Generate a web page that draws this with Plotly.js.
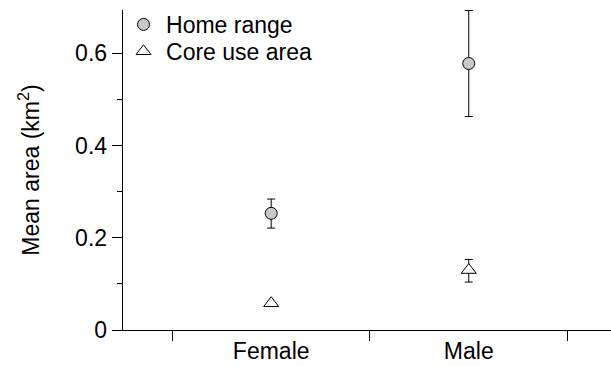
<!DOCTYPE html>
<html>
<head>
<meta charset="utf-8">
<script src="https://cdn.plot.ly/plotly-3.0.1.min.js"></script>
<style>html,body{margin:0;padding:0;background:#fff;}#chart{width:611px;height:367px;}</style>
</head>
<body>
<div id="chart"></div>
<script>
const categories = ["Female", "Male"];
const homeRange = [0.253, 0.578];
const homeRangeErrPlus = [0.031, 0.115];
const homeRangeErrMinus = [0.032, 0.115];
const coreUse = [0.058, 0.130];
const coreUseErrPlus = [0.0, 0.023];
const coreUseErrMinus = [0.0, 0.026];
const yTickVals = [0, 0.2, 0.4, 0.6];
const yTickText = ["0", "0.2", "0.4", "0.6"];

const font = "Liberation Sans, Arial, Helvetica, sans-serif";
const fs = 23;

const traces = [
  {
    type: "scatter", mode: "markers", name: "Home range", legend: "legend",
    x: categories, y: homeRange,
    error_y: {type: "data", symmetric: false, array: homeRangeErrPlus, arrayminus: homeRangeErrMinus,
              color: "#000", thickness: 1, width: 4},
    marker: {symbol: "circle", size: 12, color: "#c8c8c8", line: {color: "#000", width: 1}}
  },
  {
    type: "scatter", mode: "markers", name: "Core use area", legend: "legend2",
    x: categories, y: coreUse,
    error_y: {type: "data", symmetric: false, array: coreUseErrPlus, arrayminus: coreUseErrMinus,
              color: "#000", thickness: 1, width: 4},
    marker: {symbol: "triangle-up", size: 13, color: "#fff", line: {color: "#000", width: 1}}
  }
];

const legendBase = {xanchor: "left", yanchor: "top", bgcolor: "rgba(0,0,0,0)", itemwidth: 35,
                    font: {family: font, size: fs, color: "#000"}};

const layout = {
  width: 611, height: 367,
  margin: {l: 123, r: 0, t: 10, b: 37},
  paper_bgcolor: "#fff", plot_bgcolor: "#fff",
  font: {family: font, size: fs, color: "#000"},
  showlegend: true,
  legend: Object.assign({}, legendBase, {x: -0.004, y: 1.022}),
  legend2: Object.assign({}, legendBase, {x: -0.004, y: 0.938}),
  xaxis: {
    type: "category", range: [-0.75, 1.72],
    showline: true, linecolor: "#000", linewidth: 1.3,
    ticks: "outside", tickson: "boundaries", ticklen: 10, tickcolor: "#000", tickwidth: 1,
    showgrid: false, zeroline: false,
    tickfont: {family: font, size: fs, color: "#000"}
  },
  yaxis: {
    range: [0, 0.694],
    showline: true, linecolor: "#000", linewidth: 1.3,
    ticks: "outside", ticklen: 10, tickcolor: "#000", tickwidth: 1,
    tickvals: yTickVals, ticktext: yTickText,
    minor: {dtick: 0.1, tick0: 0, ticks: "outside", ticklen: 5, tickcolor: "#000", tickwidth: 1, showgrid: false},
    showgrid: false, zeroline: false,
    tickfont: {family: font, size: fs, color: "#000"},
    title: {text: "Mean area (km<sup>2</sup>)", font: {family: font, size: fs, color: "#000"}, standoff: 29}
  }
};

Plotly.newPlot("chart", traces, layout, {displayModeBar: false, staticPlot: true});
</script>
</body>
</html>
